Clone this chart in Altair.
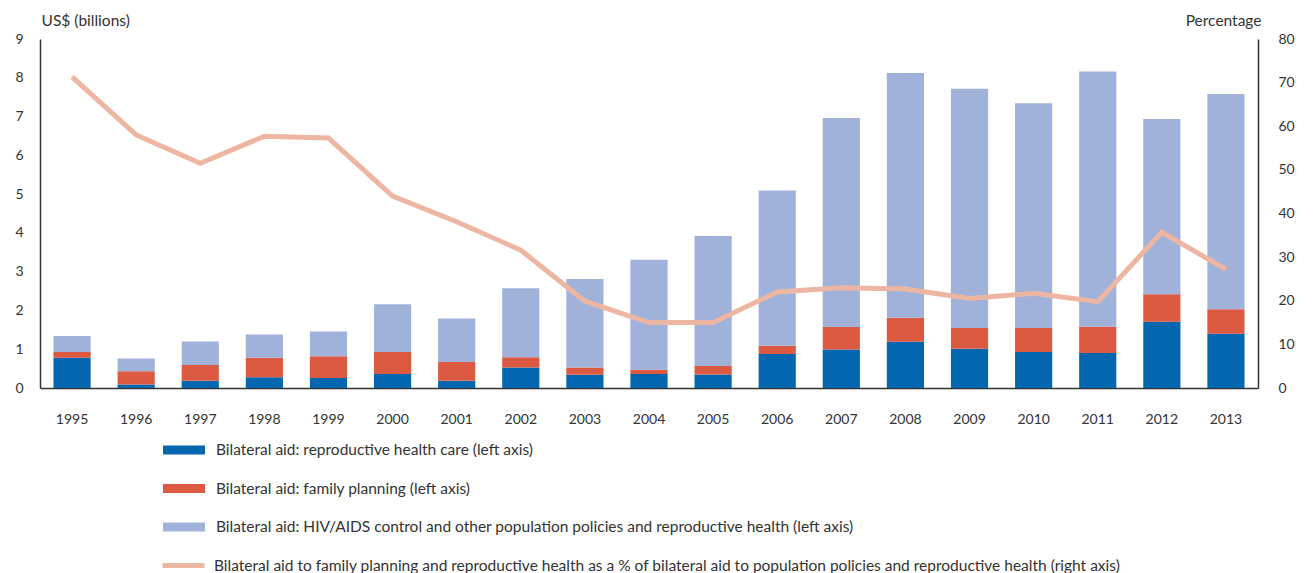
import altair as alt
import pandas as pd

years = [str(y) for y in range(1995, 2014)]
reproductive_health = [0.78, 0.09, 0.19, 0.28, 0.26, 0.36, 0.19, 0.53, 0.34, 0.36, 0.35, 0.88, 0.99, 1.19, 1.01, 0.93, 0.90, 1.71, 1.40]
family_planning = [0.15, 0.34, 0.40, 0.50, 0.56, 0.57, 0.48, 0.26, 0.19, 0.11, 0.22, 0.21, 0.58, 0.62, 0.54, 0.62, 0.68, 0.71, 0.63]
hiv_other = [0.41, 0.33, 0.61, 0.60, 0.64, 1.23, 1.12, 1.78, 2.28, 2.84, 3.35, 4.00, 5.39, 6.31, 6.17, 5.79, 6.58, 4.52, 5.55]
percentage = [71.3, 58.0, 51.5, 57.7, 57.3, 44.0, 38.1, 31.6, 19.9, 15.0, 15.0, 22.0, 23.0, 22.7, 20.5, 21.7, 19.8, 35.7, 27.2]

bar_series = [
    "Bilateral aid: reproductive health care (left axis)",
    "Bilateral aid: family planning (left axis)",
    "Bilateral aid: HIV/AIDS control and other population policies and reproductive health (left axis)",
]
line_series = "Bilateral aid to family planning and reproductive health as a % of bilateral aid to population policies and reproductive health (right axis)"
bar_colors = ["#0566b0", "#dc5a42", "#a0b1da"]
line_color = "#edb6a2"

rows = []
for i, y in enumerate(years):
    for k, vals in enumerate([reproductive_health, family_planning, hiv_other]):
        rows.append({"year": y, "series": bar_series[k], "value": vals[i], "ord": k})
bars_df = pd.DataFrame(rows)
line_df = pd.DataFrame({"year": years, "pct": percentage, "series": [line_series] * len(years)})

FONT = "Lato"
TXT = "#333333"

x_enc = alt.X(
    "year:N",
    sort=years,
    scale=alt.Scale(paddingInner=0.42, paddingOuter=0.21),
    axis=alt.Axis(
        title=None, labelAngle=0, ticks=False, labelPadding=24,
        labelFontSize=14, labelColor=TXT, labelFont=FONT,
        domainColor="#333333", domainWidth=1.5,
    ),
)

bars = alt.Chart(bars_df).mark_bar().encode(
    x=x_enc,
    y=alt.Y(
        "value:Q",
        stack="zero",
        scale=alt.Scale(domain=[0, 9], nice=False),
        axis=alt.Axis(
            title="US$ (billions)", values=list(range(0, 10)), grid=False, ticks=False,
            labelPadding=17, labelFontSize=14, labelColor=TXT, labelFont=FONT,
            domainColor="#333333", domainWidth=1.5,
            titleAngle=0, titleAlign="left", titleBaseline="alphabetic",
            titleX=1, titleY=-14, titleFontSize=15.5, titleFontWeight="normal",
            titleColor=TXT, titleFont=FONT,
        ),
    ),
    fill=alt.Fill(
        "series:N",
        scale=alt.Scale(domain=bar_series, range=bar_colors),
        legend=alt.Legend(
            title=None, orient="none", legendX=123, legendY=390, direction="vertical",
            symbolType="M-1,-0.22H1V0.22H-1Z", symbolSize=1764, symbolStrokeWidth=0,
            symbolOpacity=1, labelFont=FONT, labelFontSize=15.5, labelColor=TXT,
            labelLimit=1200, labelOffset=11, rowPadding=8.5, padding=0,
        ),
    ),
    order=alt.Order("ord:Q", sort="ascending"),
)

line = alt.Chart(line_df).mark_line(strokeWidth=5, strokeJoin="miter").encode(
    x=alt.X("year:N", sort=years),
    y=alt.Y(
        "pct:Q",
        scale=alt.Scale(domain=[0, 80], nice=False),
        axis=alt.Axis(
            orient="right", title="Percentage", values=list(range(0, 90, 10)), grid=False,
            ticks=False, labelPadding=20, labelFontSize=14, labelColor=TXT, labelFont=FONT,
            domainColor="#333333", domainWidth=1.5,
            titleAngle=0, titleAlign="right", titleBaseline="alphabetic",
            titleX=3, titleY=-14, titleFontSize=15.5, titleFontWeight="normal",
            titleColor=TXT, titleFont=FONT,
        ),
    ),
    stroke=alt.Stroke(
        "series:N",
        scale=alt.Scale(domain=[line_series], range=[line_color]),
        legend=alt.Legend(
            title=None, orient="none", legendX=120, legendY=503, direction="vertical",
            symbolType="stroke", symbolSize=1764, symbolStrokeWidth=5,
            labelFont=FONT, labelFontSize=15.5, labelColor=TXT,
            labelLimit=1200, labelOffset=7, padding=0,
        ),
    ),
)

chart = alt.layer(bars, line).resolve_scale(y="independent", fill="independent", stroke="independent").properties(
    width=1218,
    height=349,
    autosize=alt.AutoSizeParams(type="none"),
    padding={"left": 32, "top": 31, "right": 47, "bottom": 187},
).configure_view(stroke=None)

chart.save("out.html", embed_options={"renderer": "svg", "actions": False})
